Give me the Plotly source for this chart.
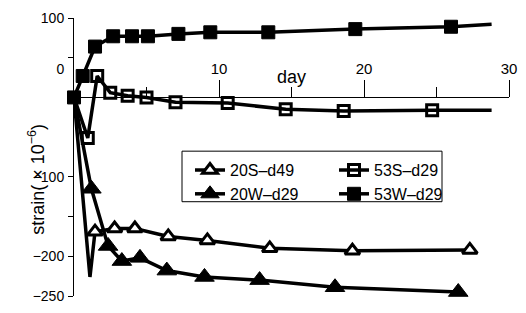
import plotly.graph_objects as go

# ---- data ----
day_20S = [0, 1.1, 1.45, 2.8, 4.2, 6.5, 9.2, 13.5, 19.2, 27.3]
strain_20S = [0, -226, -169, -165, -165, -175, -180, -190, -193, -192]
marked_20S = [2, 3, 4, 5, 6, 7, 8, 9]

day_20W = [0, 1.2, 2.35, 3.3, 4.55, 6.4, 9.0, 12.8, 18.0, 26.5]
strain_20W = [0, -115, -187, -206, -202, -218, -226, -230, -239, -245]
marked_20W = [1, 2, 3, 4, 5, 6, 7, 8, 9]

day_53S = [0, 0.95, 1.6, 2.5, 3.7, 5.0, 7.0, 10.6, 14.6, 18.6, 24.7, 28.8]
strain_53S = [0, -51, 27, 6, 2, 0, -6, -7, -15, -17, -16, -16]
marked_53S = [1, 2, 3, 4, 5, 6, 7, 8, 9, 10]

day_53W = [0, 0.6, 1.45, 2.7, 4.0, 5.1, 7.2, 9.4, 13.4, 19.4, 26.0, 28.8]
strain_53W = [0, 27, 64, 77, 77, 77, 80, 82, 82, 86, 89, 92]
marked_53W = [0, 1, 2, 3, 4, 5, 6, 7, 8, 9, 10]

names = ["20S\u2013d49", "20W\u2013d29", "53S\u2013d29", "53W\u2013d29"]

x_ticks = [10, 20, 30]
x_minor = [5, 15, 25]
y_tickvals = [100, 36, -100, -200, -250]
y_ticktext = ["100", "0", "\u2212100", "\u2212200", "\u2212250"]
y_minor = [100, 50, -100, -150, -200, -250]

FONT = "Liberation Sans, Arial, Helvetica, sans-serif"

fig = go.Figure()

series = [
    (day_20S, strain_20S, marked_20S, names[0], dict(symbol="triangle-up", size=13, color="white", line=dict(color="black", width=3)), "legend"),
    (day_20W, strain_20W, marked_20W, names[1], dict(symbol="triangle-up", size=17, color="black", line=dict(color="black", width=1)), "legend"),
    (day_53S, strain_53S, marked_53S, names[2], dict(symbol="square-open", size=11, color="black", line=dict(color="black", width=3)), "legend2"),
    (day_53W, strain_53W, marked_53W, names[3], dict(symbol="square", size=13, color="black", line=dict(color="black", width=1)), "legend2"),
]

for xs, ys, marked, nm, mk, lg in series:
    fig.add_trace(go.Scatter(
        x=xs, y=ys, name=nm, mode="lines+markers",
        line=dict(color="black", width=3.5),
        marker=mk, cliponaxis=False,
        selectedpoints=marked,
        selected=dict(marker=dict(opacity=1)),
        unselected=dict(marker=dict(opacity=0)),
        legend=lg,
    ))

L, R, T, B = 74, 17, 18, 9
W, H = 526, 313
pw, ph = W - L - R, H - T - B
ymin, ymax = -250, 100
xpos = (0 - ymin) / (ymax - ymin)

def px(xp):
    return (xp - L) / pw

def py(yp):
    return (H - B - yp) / ph

fig.update_layout(
    width=W, height=H,
    margin=dict(l=L, r=R, t=T, b=B),
    paper_bgcolor="white", plot_bgcolor="white",
    font=dict(family=FONT, color="black", size=14),
    xaxis=dict(
        range=[0, 30], anchor="free", position=xpos, side="top",
        showline=True, linecolor="black", linewidth=1,
        tickvals=x_ticks, ticktext=[str(v) for v in x_ticks],
        ticks="outside", ticklen=17, tickwidth=1, tickcolor="black",
        tickfont=dict(size=15),
        minor=dict(tickvals=x_minor, ticks="outside", ticklen=10, tickwidth=1, tickcolor="black"),
        showgrid=False, zeroline=False,
    ),
    xaxis2=dict(
        range=[0, 30], overlaying="x", anchor="free", position=xpos, side="bottom",
        showline=False, tickvals=x_ticks, showticklabels=False,
        ticks="outside", ticklen=20, tickwidth=1, tickcolor="black",
        showgrid=False, zeroline=False,
    ),
    yaxis=dict(
        range=[ymin, ymax], showline=True, linecolor="black", linewidth=1,
        tickvals=y_tickvals, ticktext=y_ticktext, ticks="",
        tickfont=dict(size=14), ticklabelstandoff=6,
        minor=dict(tickvals=y_minor, ticks="outside", ticklen=5, tickwidth=1, tickcolor="black"),
        showgrid=False, zeroline=False,
    ),
    legend=dict(x=px(190), y=py(157), xanchor="left", yanchor="top",
                bgcolor="rgba(0,0,0,0)", borderwidth=0,
                font=dict(size=16, family=FONT), itemwidth=30, tracegroupgap=0),
    legend2=dict(x=px(334), y=py(157), xanchor="left", yanchor="top",
                 bgcolor="rgba(0,0,0,0)", borderwidth=0,
                 font=dict(size=16, family=FONT), itemwidth=30, tracegroupgap=0),
    showlegend=True,
)

fig.add_shape(type="rect", xref="paper", yref="paper",
              x0=px(182), x1=px(442), y0=py(207), y1=py(155),
              line=dict(color="black", width=1), fillcolor="rgba(0,0,0,0)")

fig.add_annotation(x=15, y=0, xref="x", yref="y", text="day", showarrow=False,
                   yanchor="bottom", yshift=8, font=dict(size=18, family=FONT))

fig.add_annotation(x=px(23), y=py(184), xref="paper", yref="paper",
                   text="strain( \u00d7 10<sup>\u22126</sup>)", textangle=-90,
                   showarrow=False, font=dict(size=18, family=FONT))

fig.write_html("out.html", config={"displayModeBar": False},
               post_script="document.body.style.margin='0';document.body.style.padding='0';")
